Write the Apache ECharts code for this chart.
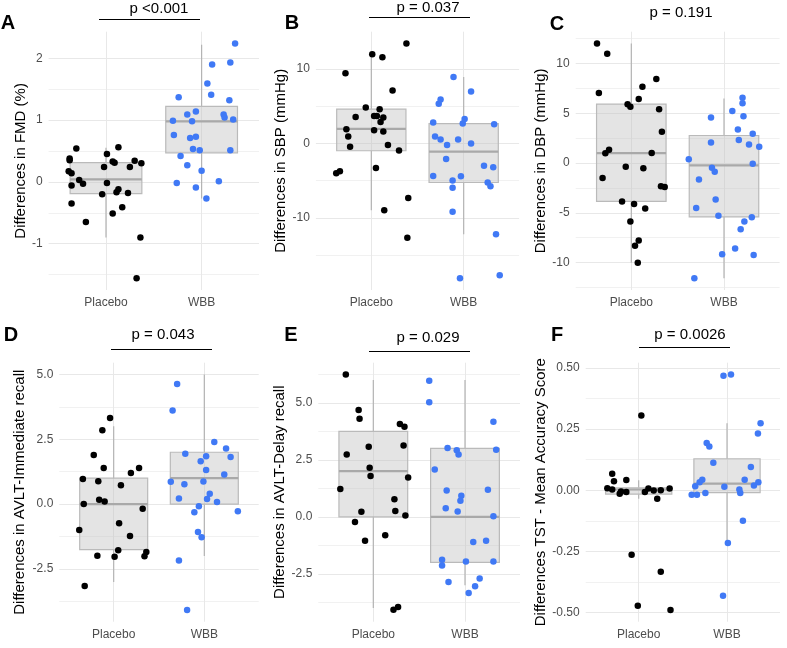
<!DOCTYPE html>
<html>
<head>
<meta charset="utf-8">
<script src="https://cdn.jsdelivr.net/npm/echarts@6/dist/echarts.min.js"></script>
<style>
html, body { margin: 0; padding: 0; background: #fff; }
#chart { width: 787px; height: 648px; }
</style>
</head>
<body>
<div id="chart"></div>
<script>
var groups = ['Placebo', 'WBB'];

// A - FMD
var fmdPlaceboY = [0.54, 0.38, 0.35, 0.17, 0.14, -0.06, 0.03, -0.03, -0.35, -0.65, -0.20, 0.24, 0.45, -0.02, 0.33, 0.31, 0.56, -0.17, -0.12, -0.51, -0.41, -0.18, 0.24, 0.34, 0.30, -0.90, -1.56];
var fmdPlaceboJit = [-0.31, -0.38, -0.38, -0.39, -0.36, -0.36, -0.28, -0.24, -0.36, -0.21, -0.04, -0.02, 0.01, 0.01, 0.07, 0.09, 0.13, 0.11, 0.13, 0.07, 0.17, 0.23, 0.25, 0.30, 0.37, 0.36, 0.32];
var fmdWbbY = [1.37, 0.99, 0.76, 0.42, 0.27, -0.02, 1.09, 0.98, 1.14, 0.71, 0.73, 0.53, 0.51, -0.09, 0.18, -0.27, 1.59, 1.90, 1.41, 0.01, 1.09, 1.04, 1.32, 1.93, 2.24, 1.01, 0.51];
var fmdWbbJit = [-0.24, -0.30, -0.29, -0.22, -0.15, -0.26, -0.15, -0.10, -0.06, -0.12, -0.06, -0.09, -0.02, -0.06, 0, 0.05, 0.06, 0.11, 0.10, 0.18, 0.23, 0.24, 0.29, 0.30, 0.35, 0.33, 0.30];
var fmdBox = [[-0.90, -0.19, 0.04, 0.31, 0.55], [-0.27, 0.47, 0.98, 1.22, 2.22]];

// B - SBP
var sbpPlaceboY = [9.42, -4.0, -3.73, 1.91, 0.93, -0.44, 3.56, 4.84, 11.96, 3.69, 3.69, 4.58, 2.89, 3.47, 1.78, 1.60, 11.56, -3.29, -8.98, -0.22, 7.11, -0.93, 13.42, -7.33, -12.67];
var sbpPlaceboJit = [-0.28, -0.38, -0.34, -0.27, -0.25, -0.23, -0.17, -0.06, 0.01, 0.03, 0.06, 0.09, 0.10, 0.13, 0.03, 0.13, 0.12, 0.05, 0.14, 0.18, 0.23, 0.30, 0.38, 0.40, 0.39];
var sbpWbbY = [2.8, 0.93, -4.36, 5.33, 5.91, 0.53, -0.22, -2.09, -4.98, -5.96, 8.93, -9.16, 0.53, -4.4, -18.09, 2.67, 3.29, 6.98, 0.0, -2.98, -5.24, -5.73, -3.2, 2.58, -12.18, -17.69];
var sbpWbbJit = [-0.33, -0.31, -0.33, -0.27, -0.25, -0.25, -0.18, -0.19, -0.12, -0.12, -0.11, -0.12, -0.06, -0.03, -0.04, -0.01, 0.01, 0.08, 0.08, 0.22, 0.26, 0.29, 0.32, 0.33, 0.35, 0.39];
var sbpBox = [[-8.98, -0.98, 1.96, 4.62, 11.8], [-12.18, -5.24, -1.11, 2.67, 8.93]];

// C - DBP
var dbpPlaceboY = [12.01, 10.98, 7.02, 0.97, 1.33, -1.5, -3.86, -0.37, 5.89, 5.66, -5.89, -4.13, -8.32, -7.79, -10.02, 6.42, 7.65, -0.53, -4.56, 1.0, 8.45, 5.39, 3.13, -2.33, -2.4];
var dbpPlaceboJit = [-0.37, -0.26, -0.35, -0.28, -0.24, -0.31, -0.10, -0.06, -0.04, -0.01, -0.01, 0.03, 0.04, 0.08, 0.07, 0.08, 0.12, 0.13, 0.15, 0.22, 0.27, 0.30, 0.33, 0.32, 0.36];
var dbpWbbY = [0.37, -4.53, -1.66, 4.56, 2.06, -0.47, -0.87, -3.66, -5.29, -9.18, 5.22, -8.59, 3.36, 2.30, -6.66, 6.56, 5.99, 4.69, -5.89, 1.86, 2.93, -0.07, -5.46, -9.25, 1.63, -11.58];
var dbpWbbJit = [-0.38, -0.30, -0.27, -0.14, -0.14, -0.13, -0.10, -0.09, -0.06, -0.02, 0.09, 0.12, 0.15, 0.16, 0.18, 0.20, 0.20, 0.21, 0.22, 0.27, 0.31, 0.31, 0.30, 0.32, 0.38, -0.32];
var dbpBox = [[-10.02, -3.86, 1.0, 5.92, 12.0], [-11.58, -5.42, -0.23, 2.76, 6.49]];

// D - AVLT immediate recall
var immPlaceboY = [3.32, 2.85, 1.89, 1.39, 0.97, 0.88, 0.17, 0.10, 0.01, -1.0, -1.99, -3.15, -2.03, -1.78, -0.74, 0.73, -1.23, 1.20, 1.39, -0.18, -2.01, -1.84];
var immPlaceboJit = [-0.04, -0.125, -0.22, -0.11, -0.34, -0.17, -0.16, -0.10, -0.33, -0.38, -0.18, -0.32, 0.01, 0.05, 0.06, 0.08, 0.18, 0.19, 0.28, 0.32, 0.34, 0.36];
var immWbbY = [4.63, 3.61, 1.94, 0.86, 0.77, 0.22, -2.17, -0.31, -0.08, -1.07, -1.28, -4.08, 1.65, 1.85, 1.32, 0.87, 0.40, 0.20, 2.39, 0.08, 2.14, 1.82, 1.14, -0.27];
var immWbbJit = [-0.30, -0.35, -0.21, -0.37, -0.22, -0.28, -0.28, -0.11, -0.06, -0.07, -0.03, -0.19, -0.04, 0.02, 0.02, -0.01, 0.06, 0.03, 0.11, 0.14, 0.24, 0.29, 0.22, 0.37];
var immBox = [[-3, -1.75, 0, 1, 3], [-2, 0, 1, 2, 5]];

// E - AVLT delay recall
var delPlaceboY = [6.24, 4.69, 4.30, 2.73, 1.22, 0.22, -0.23, -1.05, 3.07, 2.15, 1.79, -0.81, 0.77, 0.25, -4.08, -3.95, 4.07, 3.95, 3.13, 1.72, 0.06];
var delPlaceboJit = [-0.30, -0.16, -0.15, -0.29, -0.36, -0.13, -0.20, -0.09, -0.05, -0.04, -0.03, 0.13, 0.23, 0.24, 0.22, 0.27, 0.29, 0.34, 0.33, 0.38, 0.35];
var delWbbY = [5.97, 5.03, 2.08, 3.02, 1.16, 0.38, -1.88, -2.14, -2.86, 2.92, 2.73, 0.92, 0.70, 0.23, -1.96, -3.34, -3.04, -2.70, -1.10, -1.05, 1.19, 4.17, 2.94, 0.03, -1.96];
var delWbbJit = [-0.39, -0.39, -0.33, -0.19, -0.20, -0.21, -0.25, -0.25, -0.18, -0.09, -0.07, -0.04, -0.05, -0.08, 0.01, 0.04, 0.11, 0.16, 0.09, 0.23, 0.25, 0.31, 0.34, 0.31, 0.31];
var delBox = [[-4, 0, 2, 3.75, 6], [-3, -2, 0, 3, 6]];

// F - TST mean accuracy
var tstPlaceboY = [0.008, 0.068, 0.037, 0.003, -0.014, -0.005, -0.007, 0.042, 0.306, -0.264, -0.473, -0.007, 0.007, -0.001, -0.035, 0.0, -0.334, 0.007, -0.49];
var tstPlaceboJit = [-0.355, -0.30, -0.28, -0.30, -0.215, -0.20, -0.14, -0.14, 0.03, -0.08, -0.01, 0.07, 0.11, 0.17, 0.21, 0.25, 0.25, 0.35, 0.36];
var tstWbbY = [-0.018, -0.018, 0.016, 0.033, 0.043, -0.011, 0.193, 0.179, 0.113, 0.469, 0.474, 0.014, -0.216, -0.432, 0.003, -0.011, -0.125, 0.043, 0.095, 0.019, 0.033, 0.232, 0.274];
var tstWbbJit = [-0.40, -0.34, -0.36, -0.31, -0.28, -0.245, -0.23, -0.20, -0.155, -0.04, 0.045, -0.03, 0.01, -0.045, 0.14, 0.15, 0.18, 0.20, 0.27, 0.305, 0.355, 0.35, 0.38];
var tstBox = [[-0.035, -0.016, 0.003, 0.01, 0.041], [-0.216, -0.01, 0.027, 0.129, 0.274]];

var yNames = ['Differences in FMD (%)', 'Differences in SBP (mmHg)', 'Differences in DBP (mmHg)',
    'Differences in AVLT-Immediate recall', 'Differences in AVLT-Delay recall', 'Differences TST - Mean Accuracy Score'];
var panelLetters = ['A', 'B', 'C', 'D', 'E', 'F'];
var pValues = ['p <0.001', 'p = 0.037', 'p = 0.191', 'p = 0.043', 'p = 0.029', 'p = 0.0026'];
var yMin = [-1.75, -19.67, -12.76, -4.53, -4.6, -0.538];
var yMax = [2.43, 15.0, 13.19, 5.45, 6.76, 0.522];
var yTicks = [[-1, 0, 1, 2], [-10, 0, 10], [-10, -5, 0, 5, 10], [-2.5, 0, 2.5, 5], [-2.5, 0, 2.5, 5], [-0.5, -0.25, 0, 0.25, 0.5]];
var yMinor = [[-1.5, -0.5, 0.5, 1.5], [-15, -5, 5], [-12.5, -7.5, -2.5, 2.5, 7.5, 12.5], [-3.75, -1.25, 1.25, 3.75], [-3.75, -1.25, 1.25, 3.75, 6.25], [-0.375, -0.125, 0.125, 0.375]];
var yDecimals = [0, 0, 0, 1, 1, 2];

var panels = [
    [fmdPlaceboY, fmdPlaceboJit, fmdWbbY, fmdWbbJit, fmdBox],
    [sbpPlaceboY, sbpPlaceboJit, sbpWbbY, sbpWbbJit, sbpBox],
    [dbpPlaceboY, dbpPlaceboJit, dbpWbbY, dbpWbbJit, dbpBox],
    [immPlaceboY, immPlaceboJit, immWbbY, immWbbJit, immBox],
    [delPlaceboY, delPlaceboJit, delWbbY, delWbbJit, delBox],
    [tstPlaceboY, tstPlaceboJit, tstWbbY, tstWbbJit, tstBox]
];

// layout (pixels)
var gridRects = [[48.6, 31.7, 210.4, 258.3], [315.9, 31.7, 203.2, 258.3], [575.7, 31.7, 203.9, 258.3],
    [59.3, 362.7, 199.4, 259], [318.3, 362.7, 201.7, 259], [585.7, 362.7, 194.3, 259]];
var nameGaps = [20.5, 27, 26, 31.8, 30.5, 36];
var letterPos = [[8, 23], [292, 23], [557, 24], [11, 335], [291, 335], [557, 335]];
var pPos = [[159, 9], [428, 7.5], [681, 12.5], [163, 335], [428, 337.5], [690, 335]];
var sigLines = [[99, 200, 19.5], [369, 470, 17.5], null, [111, 212, 349.5], [369, 470, 351.5], [639, 730, 347.5]];

var FONT = 'Liberation Sans, Arial, sans-serif';
var MAJOR = '#e8e8e8';
var MINOR = '#f1f1f1';

function jitterPoints(ys, jit, center) {
    return ys.map(function (y, i) { return [center + jit[i], y]; });
}

function renderBox(params, api) {
    var x = api.value(0);
    var lo = api.coord([x, api.value(1)]);
    var q1 = api.coord([x, api.value(2)]);
    var med = api.coord([x, api.value(3)]);
    var q3 = api.coord([x, api.value(4)]);
    var hi = api.coord([x, api.value(5)]);
    var half = api.size([0.375, 0])[0];
    var whisker = { stroke: '#b3b3b3', lineWidth: 1.2 };
    return {
        type: 'group',
        children: [
            { type: 'line', shape: { x1: lo[0], y1: lo[1], x2: q1[0], y2: q1[1] }, style: whisker },
            { type: 'line', shape: { x1: q3[0], y1: q3[1], x2: hi[0], y2: hi[1] }, style: whisker },
            { type: 'rect', shape: { x: q1[0] - half, y: q3[1], width: half * 2, height: q1[1] - q3[1] },
              style: { fill: 'rgba(190,190,190,0.42)', stroke: '#bababa', lineWidth: 1.2 } },
            { type: 'line', shape: { x1: med[0] - half, y1: med[1], x2: med[0] + half, y2: med[1] },
              style: { stroke: '#a9a9a9', lineWidth: 2.2 } }
        ]
    };
}

function buildOption() {
    var grid = [], xAxis = [], yAxis = [], series = [], graphic = [];
    panels.forEach(function (p, i) {
        var r = gridRects[i];
        grid.push({ left: r[0], top: r[1], width: r[2], height: r[3] });

        xAxis.push({
            type: 'value', gridIndex: i, min: 0.4, max: 2.6,
            axisLine: { show: false },
            axisTick: { show: false, customValues: [1, 2] },
            axisLabel: {
                customValues: [1, 2], color: '#4d4d4d', fontSize: 12, margin: 7, fontFamily: FONT,
                formatter: function (v) { return groups[Math.round(v) - 1]; }
            },
            splitLine: { show: true, lineStyle: { color: MAJOR, width: 1 } }
        });

        var all = yTicks[i].concat(yMinor[i]).sort(function (a, b) { return a - b; });
        var colors = all.map(function (v) { return yTicks[i].indexOf(v) >= 0 ? MAJOR : MINOR; });
        var dec = yDecimals[i];
        yAxis.push({
            type: 'value', gridIndex: i, min: yMin[i], max: yMax[i],
            name: yNames[i], nameLocation: 'middle', nameGap: nameGaps[i],
            nameTextStyle: { fontSize: 15, color: '#000', fontFamily: FONT },
            axisLine: { show: false },
            axisTick: { show: false, customValues: all },
            axisLabel: {
                customValues: yTicks[i], color: '#4d4d4d', fontSize: 12, margin: 6, fontFamily: FONT,
                formatter: function (v) { return v.toFixed(dec); }
            },
            splitLine: { show: true, lineStyle: { color: colors, width: 1 } }
        });

        series.push({
            type: 'custom', xAxisIndex: i, yAxisIndex: i, silent: true,
            renderItem: renderBox,
            encode: { x: 0, y: [1, 2, 3, 4, 5] },
            data: p[4].map(function (b, k) { return [k + 1].concat(b); })
        });
        series.push({
            type: 'scatter', xAxisIndex: i, yAxisIndex: i, silent: true,
            symbolSize: 6.5, itemStyle: { color: '#000', opacity: 1 },
            data: jitterPoints(p[0], p[1], 1)
        });
        series.push({
            type: 'scatter', xAxisIndex: i, yAxisIndex: i, silent: true,
            symbolSize: 6.5, itemStyle: { color: '#4079f5', opacity: 1 },
            data: jitterPoints(p[2], p[3], 2)
        });

        graphic.push({
            type: 'text', x: letterPos[i][0], y: letterPos[i][1],
            style: { text: panelLetters[i], fill: '#000', fontSize: 20, fontWeight: 'bold', fontFamily: FONT,
                     align: 'center', verticalAlign: 'middle' }
        });
        graphic.push({
            type: 'text', x: pPos[i][0], y: pPos[i][1],
            style: { text: pValues[i], fill: '#000', fontSize: 15, fontFamily: FONT,
                     align: 'center', verticalAlign: 'middle' }
        });
        if (sigLines[i]) {
            graphic.push({
                type: 'line',
                shape: { x1: sigLines[i][0], y1: sigLines[i][2], x2: sigLines[i][1], y2: sigLines[i][2] },
                style: { stroke: '#000', lineWidth: 1 }
            });
        }
    });

    return {
        animation: false,
        backgroundColor: '#fff',
        textStyle: { fontFamily: FONT },
        grid: grid, xAxis: xAxis, yAxis: yAxis, series: series, graphic: graphic
    };
}

var myChart = echarts.init(document.getElementById('chart'));
myChart.setOption(buildOption());
</script>
</body>
</html>
